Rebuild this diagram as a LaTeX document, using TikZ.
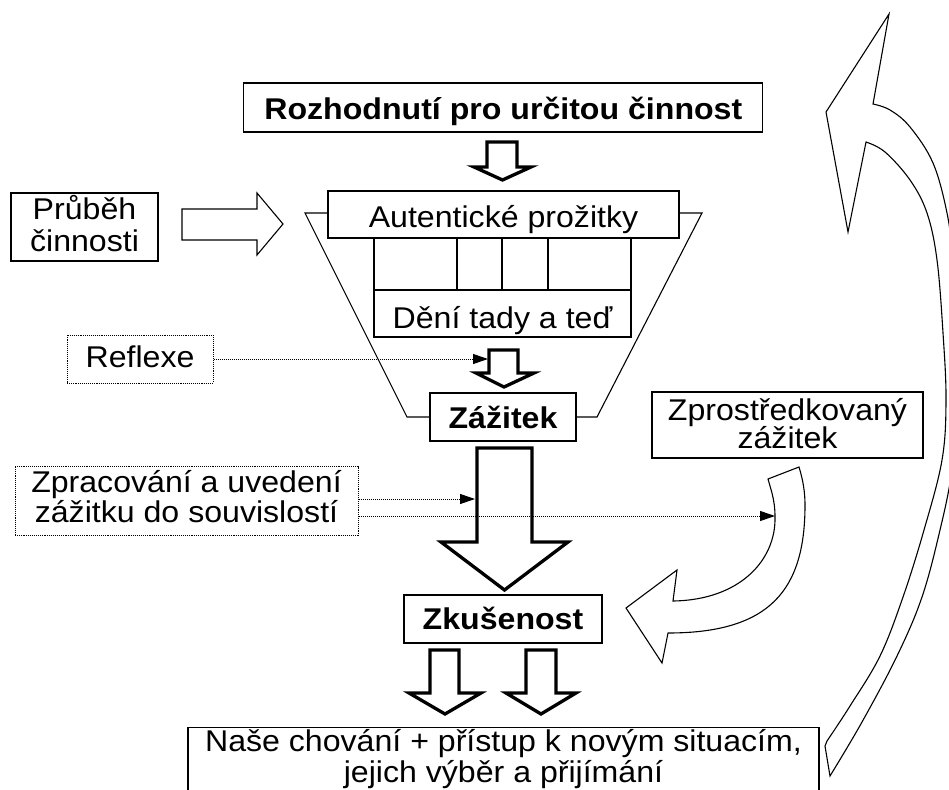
\documentclass[tikz,border=0pt]{standalone}
\usepackage{fontspec}
\setmainfont{Liberation Sans}[FakeStretch=1.07]
\usetikzlibrary{arrows.meta}
\tikzset{
  box/.style={draw, line width=1.1pt, inner sep=0pt, font=\fontsize{30}{30}\selectfont},
  bbox/.style={box, font=\fontsize{30}{30}\selectfont\bfseries},
  dbox/.style={box, densely dotted, line width=1pt},
  outl/.style={line width=1.1pt, line join=miter},
  fatl/.style={line width=3.3pt, line join=miter},
  dotarr/.style={densely dotted, line width=1pt, -{Triangle[length=15pt,width=10pt]}}
}
\begin{document}
\begin{tikzpicture}[x=1pt,y=-1pt]
\useasboundingbox (0,0) rectangle (949,789);
\clip (0,0) rectangle (949,789);

% funnel
\draw[outl] (328,213) -- (305,213) -- (407,417) -- (430,417);
\draw[outl] (679,213) -- (702,213) -- (597,417) -- (576,417);

% boxes
\node[bbox, minimum width=519, minimum height=49, text height=25pt, text depth=0pt] (top) at (503.3,107.5) {Rozhodnutí pro určitou činnost};
\node[box, minimum width=351, minimum height=47, text height=25pt, text depth=0pt] (aut) at (503.5,214.5) {Autentické prožitky};
\node[box, minimum width=257, minimum height=52] (cells) at (502.5,264) {};
\draw[outl] (457,238) -- (457,290);
\draw[outl] (502,238) -- (502,290);
\draw[outl] (548,238) -- (548,290);
\node[box, minimum width=257, minimum height=47, text height=29pt, text depth=0pt] (deni) at (502.5,313.5) {Dění tady a teď};
\node[bbox, minimum width=146, minimum height=48, text height=22pt, text depth=0pt] (zaz) at (503,417) {Zážitek};
\node[box, minimum width=147, minimum height=66, align=center] (prub) at (84.5,227) {\rule{0pt}{26pt}Průběh\\[2pt]činnosti\rule[-10pt]{0pt}{10pt}};
\node[dbox, minimum width=146, minimum height=48, text height=16pt, text depth=0pt] (refl) at (140,359) {Reflexe};
\node[dbox, minimum width=343, minimum height=67, align=center] (zpc) at (186.5,500.5) {\rule{0pt}{26pt}Zpracování a uvedení\\zážitku do souvislostí\rule[-13pt]{0pt}{13pt}};
\node[box, minimum width=271, minimum height=66, align=center] (zpr) at (787.5,425) {\rule{0pt}{26pt}Zprostředkovaný\\[-1.7pt]zážitek\rule[-7.7pt]{0pt}{7.7pt}};
\node[bbox, minimum width=198, minimum height=48, text height=20pt, text depth=0pt] (zku) at (503,619) {Zkušenost};
\node[box, minimum width=631, align=center, anchor=north] (bot) at (503.5,727) {\rule{0pt}{23.5pt}Naše chování + přístup k novým situacím,\\[1pt]jejich výběr a přijímání\rule[-20pt]{0pt}{20pt}};

% block arrow right
\draw[outl] (182,209) -- (257,209) -- (257,193) -- (283,224) -- (257,255) -- (257,240) -- (182,240) -- cycle;

% fat down arrows
\draw[fatl] (487,142) -- (517,142) -- (517,167) -- (531,167) -- (502.5,180) -- (474,167) -- (487,167) -- cycle;
\draw[fatl] (489,350) -- (518,350) -- (518,373) -- (534,373) -- (504,387) -- (476,373) -- (489,373) -- cycle;
\draw[fatl] (477,448) -- (532,448) -- (532,542) -- (568,542) -- (504.5,590) -- (441,542) -- (477,542) -- cycle;
\draw[fatl] (430,650) -- (459,650) -- (459,693) -- (481,693) -- (445,714) -- (409,693) -- (430,693) -- cycle;
\draw[fatl] (526,650) -- (556,650) -- (556,693) -- (576,693) -- (541,714) -- (506,693) -- (526,693) -- cycle;

% small curved arrow
\draw[outl] (768,479) -- (799,467) .. controls (803,480) and (805,492) .. (805,505)
  .. controls (805,590) and (770,633) .. (668,633) -- (662,663) -- (626,608) -- (677,570) -- (673,601)
  .. controls (740,600) and (776,560) .. (775,517) .. controls (775,500) and (771,490) .. (768,479) -- cycle;

% big curved arrow
\draw[outl] (873,104) -- (889,14) -- (826,112) -- (848,232) -- (866,142)
  -- plot[smooth, tension=0.6] coordinates {(866,142) (885,152) (910,180) (927,213) (937,260) (943,333) (946,400) (942,460) (924,530) (903,597) (880,656) (850,706) (827,741)}
  -- (825,746) -- (830,776)
  -- plot[smooth, tension=0.6] coordinates {(830,776) (862,722) (897,656) (922,597) (940,530) (952,470) (958,400) (958,330) (953,260) (947,213) (933,163) (910,127) (890,110) (873,104)}
  -- cycle;

% dotted connectors
\coordinate (rtip) at (488,359);
\coordinate (t1) at (475,499);
\coordinate (t2) at (775,516);
\draw[dotarr] (refl.east) -- (rtip);
\draw[dotarr] (zpc.east |- t1) -- (t1);
\draw[dotarr] (zpc.east |- t2) -- (t2);
\end{tikzpicture}
\end{document}
